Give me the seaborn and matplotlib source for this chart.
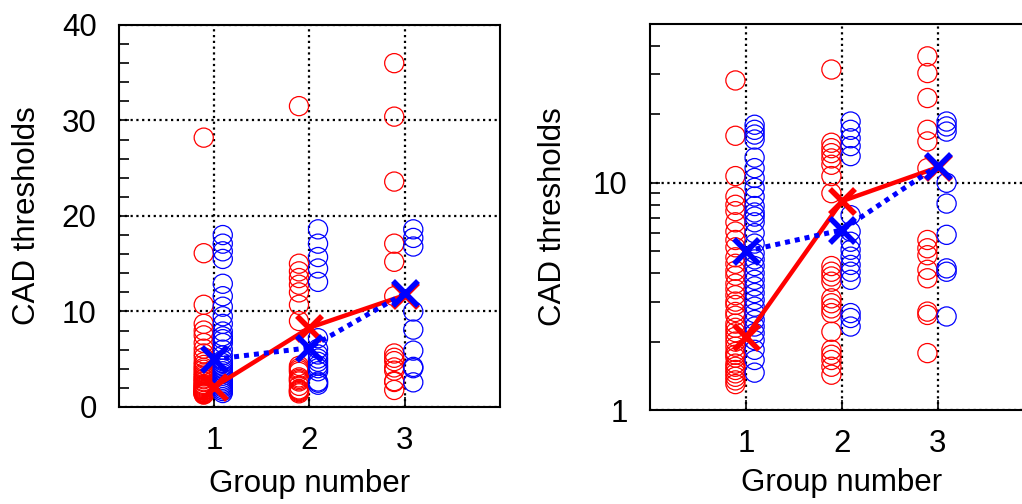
import numpy as np
import pandas as pd
import matplotlib
matplotlib.use('Agg')
import matplotlib.pyplot as plt
import matplotlib.ticker as mticker
import seaborn as sns

groups = [1, 2, 3]

# CAD thresholds per subject
red_g1 = [28.2, 16.1, 10.7, 8.7, 8.0, 7.5, 6.7, 6.1, 5.6, 5.2, 4.7, 4.4, 4.1,
          3.9, 3.6, 3.4, 3.2, 3.0, 2.9, 2.7, 2.6, 2.4, 2.3, 2.2, 2.1, 2.0,
          1.9, 1.8, 1.75, 1.7, 1.6, 1.55, 1.5, 1.45, 1.4, 1.35, 1.3]
red_g2 = [31.5, 15.0, 14.2, 13.5, 12.8, 12.0, 10.7, 9.0, 4.3, 4.06, 3.87,
          3.67, 3.1, 2.95, 2.8, 2.67, 2.21, 1.84, 1.75, 1.66, 1.55, 1.43]
red_g3 = [36.0, 30.4, 23.6, 17.1, 15.2, 11.6, 5.6, 5.15, 4.8, 4.14, 3.8,
          2.71, 2.62, 1.78]
blue_g1 = [18.0, 17.1, 16.3, 15.5, 12.9, 11.6, 10.5, 9.5, 8.7, 7.9, 7.4, 7.1,
           6.7, 6.0, 5.4, 4.9, 4.6, 4.3, 4.0, 3.74, 3.5, 3.27, 3.05, 2.85,
           2.67, 2.49, 2.33, 2.18, 2.03, 1.84, 1.66, 1.46]
blue_g2 = [18.6, 17.1, 15.7, 14.5, 13.1, 7.2, 6.1, 5.5, 5.07, 4.73, 4.35,
           4.06, 3.74, 2.67, 2.54, 2.33]
blue_g3 = [18.6, 17.7, 16.8, 10.0, 8.1, 5.9, 4.2, 4.06, 2.58]

red_center = [2.1, 8.3, 11.7]
blue_center = [5.0, 6.2, 11.9]

rows = []
for g, vals in zip(groups, [red_g1, red_g2, red_g3]):
    rows += [(g, v, 'red') for v in vals]
for g, vals in zip(groups, [blue_g1, blue_g2, blue_g3]):
    rows += [(g, v, 'blue') for v in vals]
df = pd.DataFrame(rows, columns=['group', 'value', 'series'])
offset = {'red': -0.11, 'blue': 0.09}
df['xpos'] = df['group'] + df['series'].map(offset)

sns.set_style('white')
plt.rcParams['font.family'] = ['Liberation Sans', 'DejaVu Sans']
plt.rcParams['font.size'] = 22.5
plt.rcParams['text.color'] = 'black'
plt.rcParams['axes.labelcolor'] = 'black'
plt.rcParams['xtick.color'] = 'black'
plt.rcParams['ytick.color'] = 'black'

fig = plt.figure(figsize=(10.22, 5.04), dpi=100)
ax1 = fig.add_axes([0.1164, 0.1925, 0.3728, 0.758])
ax2 = fig.add_axes([0.636, 0.1865, 0.3757, 0.766])


def draw(ax):
    for s in ['red', 'blue']:
        sub = df[df['series'] == s]
        sns.scatterplot(x=sub['xpos'], y=sub['value'], ax=ax, marker='o', s=190,
                        facecolors='none', edgecolor=s, linewidth=0.9, zorder=3)
    sns.lineplot(x=groups, y=red_center, ax=ax, color='red', lw=3.2,
                 marker='x', markersize=18, mew=4, mec='red', zorder=4)
    sns.lineplot(x=groups, y=blue_center, ax=ax, color='blue', lw=3.6,
                 linestyle=(0, (1, 1)), marker='x', markersize=18, mew=4,
                 mec='blue', zorder=5)
    ax.set_xlim(0, 4)
    ax.set_xticks(groups)
    ax.grid(True, color='black', linestyle=(0, (1, 1.6)), lw=1.6)
    ax.set_axisbelow(True)
    for sp in ax.spines.values():
        sp.set_linewidth(1.5)
        sp.set_color('black')
    ax.tick_params(axis='both', which='both', direction='in', length=7, width=1.2,
                   left=True, bottom=True, right=False, top=False, labelsize=22.5,
                   colors='black')
    ax.tick_params(axis='y', pad=16)
    ax.tick_params(axis='x', pad=14)
    ax.set_xlabel('Group number', labelpad=9)
    ax.set_ylabel('CAD thresholds', labelpad=14)


draw(ax1)
ax1.set_ylim(0, 40)
ax1.set_yticks([0, 10, 20, 30, 40])
ax1.yaxis.set_minor_locator(mticker.MultipleLocator(2))

draw(ax2)
ax2.set_yscale('log')
ax2.set_ylim(1, 50)
ax2.yaxis.set_major_locator(mticker.FixedLocator([1, 10]))
ax2.yaxis.set_major_formatter(mticker.FormatStrFormatter('%g'))
ax2.yaxis.set_minor_locator(mticker.LogLocator(base=10, subs=np.arange(2, 10)))
ax2.yaxis.set_minor_formatter(mticker.NullFormatter())
ax2.tick_params(axis='y', which='both', direction='in', length=7)
ax2.yaxis.labelpad = 18
ax2.xaxis.labelpad = 6

fig.savefig('out.png', dpi=100)
